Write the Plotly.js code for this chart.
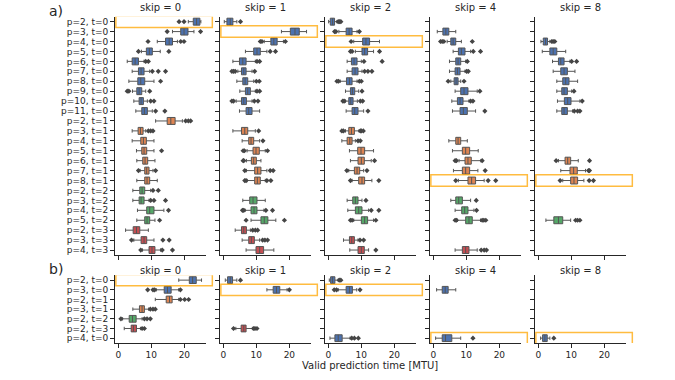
<!DOCTYPE html>
<html>
<head>
<meta charset="utf-8">
<script src="https://cdn.plot.ly/plotly-3.0.1.min.js"></script>
<style>body{margin:0;background:#fff}#chart{width:675px;height:380px}</style>
</head>
<body>
<div id="chart"></div>
<script>
// categories of the two rows
var catsA = ['p=2, t=0','p=3, t=0','p=4, t=0','p=5, t=0','p=6, t=0','p=7, t=0','p=8, t=0','p=9, t=0','p=10, t=0','p=11, t=0',
             'p=2, t=1','p=3, t=1','p=4, t=1','p=5, t=1','p=6, t=1','p=7, t=1','p=8, t=1',
             'p=2, t=2','p=3, t=2','p=4, t=2','p=5, t=2',
             'p=2, t=3','p=3, t=3','p=4, t=3'];
var catsB = ['p=2, t=0','p=3, t=0','p=2, t=1','p=3, t=1','p=2, t=2','p=2, t=3','p=4, t=0'];
var skips = [0, 1, 2, 4, 8];

// box stats per category: [lower whisker, q1, median, q3, upper whisker]
var statsA0 = [[21.2,22.7,23.7,24.7,25.0],[16.4,18.9,19.9,21.1,22.9],[11.8,14.3,15.4,16.4,17.9],[7.0,8.5,9.4,10.3,12.7],
  [2.7,4.2,5.1,6.1,7.8],[4.2,6.1,6.9,7.8,9.5],[3.2,5.9,6.8,8.0,10.8],[4.3,5.6,6.3,7.1,8.3],[4.7,6.3,6.9,7.6,8.8],[5.3,7.1,7.9,8.8,10.3],
  [11.3,14.8,15.9,17.2,19.4],[4.2,6.0,6.7,7.5,8.3],[4.2,6.8,7.6,8.5,10.8],[5.5,7.1,7.8,8.6,10.8],[5.6,7.4,8.1,8.9,11.1],[6.6,8.0,8.6,9.3,10.5],[5.6,8.0,8.7,9.5,11.8],
  [4.4,6.5,7.2,8.0,9.8],[4.4,6.3,6.9,7.8,9.3],[5.8,8.6,9.5,10.8,13.8],[5.6,8.0,8.7,9.5,11.1],
  [2.2,4.5,5.5,6.5,9.1],[4.7,6.9,7.8,8.6,10.8],[7.3,9.3,10.2,11.1,12.8]];
var outsA0 = [[18.4,19.9],[14.8,24.9],[9.0,18.9,19.9],[6.1,15.3],[8.3,9.1],[10.3,12.1,14.3],[12.8],[2.7,3.2,9.5],[9.8,10.8],[11.3,14.1],
  [20.4,21.2,21.9],[9.1,9.8,10.5],[],[13.1],[],[6.1,11.3],[],
  [10.5,12.1],[9.8,10.8,14.3],[15.2],[12.5],
  [],[4.0,13.5,15.4],[6.8,13.3,16.4]];

var statsA1 = [[0.3,1.1,2.1,2.9,4.1],[17.6,20.3,21.7,23.0,25.2],[12.4,14.4,15.3,16.3,18.2],[6.7,9.2,10.2,11.2,13.2],
  [2.9,4.9,5.9,6.9,9.7],[4.4,5.5,6.2,6.9,8.7],[4.1,5.9,6.6,7.4,9.2],[5.0,6.7,7.4,8.2,9.7],[3.9,5.5,6.2,7.0,8.7],[4.9,6.9,7.7,8.7,11.0],
  null,[2.9,5.5,6.5,7.4,9.7],[5.7,7.7,8.4,9.2,11.0],[7.2,9.0,9.9,10.9,12.7],[7.0,8.5,9.2,10.0,11.4],[7.0,9.5,10.4,11.4,13.2],[7.2,9.5,10.3,11.2,12.7],
  null,[5.9,8.0,9.0,10.2,12.7],[6.6,8.4,9.3,10.2,12.3],[8.4,11.4,12.4,13.5,15.9],
  [3.6,5.5,6.2,7.0,8.2],[5.7,7.7,8.5,9.4,11.0],[6.9,9.9,11.0,12.2,15.3]];
var outsA1 = [[5.2],[],[11.2,11.7,18.8],[14.2,15.8],[10.2,11.0],[2.6,3.1,3.6,9.5],[10.0,10.9],[10.2,11.0],[2.6,3.1,9.4,10.5],[],
  [],[10.7],[12.0],[6.0,6.4,13.4],[6.0,6.2],[6.5,14.2,15.1],[6.5,6.9,13.2,14.4],
  [],[],[5.8,6.2,12.9,14.9],[6.9,18.5],
  [8.9,9.7,10.4],[11.9,12.6,13.4],[]];

var statsA2 = [[0.1,0.6,1.3,1.9,2.6],[3.2,5.4,6.3,7.2,8.7],[7.7,10.4,11.4,12.5,15.5],[8.2,10.2,11.0,11.9,13.7],
  [5.7,7.0,7.8,8.7,10.0],[5.7,7.2,8.1,9.0,10.2],[3.6,5.5,6.4,7.2,8.7],[5.2,6.7,7.3,8.0,9.2],[5.2,6.2,6.8,7.5,8.8],[5.4,7.2,8.0,9.0,10.7],
  null,[5.2,6.2,7.0,7.9,9.3],[4.1,5.7,6.5,7.2,8.2],[6.4,8.9,9.9,11.0,13.7],[6.7,9.0,10.0,10.9,13.0],[6.2,7.9,8.7,9.5,10.7],[7.2,9.2,10.2,11.0,13.2],
  null,[5.7,7.4,8.2,9.0,10.2],[5.9,8.2,9.2,10.2,12.2],[7.7,10.0,11.0,11.9,13.7],
  null,[4.6,6.4,7.1,7.9,9.0],[6.5,9.0,10.0,10.9,12.2]];
var outsA2 = [[3.0,3.4,3.8],[1.9,2.3,9.4],[6.9],[6.7,7.2,15.5],[10.8,16.3],[11.0,12.0,13.2],[2.6,3.1,9.4,10.0],[10.2],[4.4,4.8,9.7,10.4],[12.0],
  [],[4.1,4.6,9.7,10.0,10.6],[9.0,9.7],[],[14.0],[5.6,11.7],[6.7,15.3],
  [],[11.4],[13.0,15.3],[6.7,7.2,14.4],
  [],[9.6,10.7],[14.4]];

var statsA4 = [null,[1.2,2.9,3.8,4.7,6.8],[4.2,5.3,6.0,6.8,8.5],[6.0,7.6,8.5,9.6,11.3],
  [4.9,6.8,7.5,8.3,9.8],[4.9,6.6,7.3,8.1,9.6],[5.3,6.3,6.9,7.5,8.3],[6.6,8.3,9.3,10.5,13.3],[5.6,7.3,8.1,9.0,10.8],[5.8,8.1,9.1,10.3,12.8],
  null,null,[4.7,6.8,7.5,8.3,10.3],[5.8,8.8,9.8,11.0,13.6],[7.8,9.6,10.5,11.5,14.4],[6.1,8.8,9.8,11.0,13.5],[7.6,10.5,11.6,12.8,15.4],
  null,[5.3,6.8,7.7,8.8,11.3],[6.6,8.6,9.5,10.5,12.3],[7.3,9.8,10.8,11.8,14.3],
  null,null,[6.6,8.8,9.8,10.8,13.3]];
var outsA4 = [[],[],[2.2,2.7,3.2,11.8],[12.1,14.3],[10.3],[10.1,10.6],[4.5,9.3],[14.1],[11.3,12.0],[15.6],
  [],[],[],[],[6.6,7.0,14.8],[15.7],[6.8,16.6,18.9],
  [],[13.0],[13.1],[6.6,7.0,14.8,15.3,15.9],
  [],[],[14.5,15.4,16.1]];

var statsA8 = [null,null,[0.8,1.5,2.2,2.8,3.5],[1.2,3.5,4.5,5.6,8.3],
  [4.3,6.1,6.8,7.8,9.6],[4.5,6.8,7.8,8.8,11.1],[5.6,7.4,8.3,9.3,11.9],[5.6,7.1,7.8,8.8,10.1],[5.8,7.9,8.9,9.9,12.6],[5.6,7.1,7.8,8.8,10.4],
  null,null,null,null,[6.1,8.1,8.9,9.8,12.1],[6.8,9.6,10.7,11.8,14.3],[7.4,9.8,10.8,11.9,13.8],
  null,null,null,[2.3,4.7,6.1,7.4,9.8],
  null,null,null];
var outsA8 = [[],[],[4.1,4.5,5.0],[],[10.1,11.6],[],[],[10.8],[13.3],[10.9,11.9,12.6],
  [],[],[],[],[5.4,15.5],[15.2,15.5],[6.6,15.4,16.7],
  [],[],[],[11.3,11.9,12.6],
  [],[],[]];

var statsB0 = [[18.3,21.5,22.5,23.6,25.2],[11.5,13.9,14.9,16.0,18.3],[11.2,14.5,15.5,16.3,18.3],[4.4,6.4,7.2,7.9,9.2],[1.3,3.3,4.3,5.4,7.2],[1.8,3.9,4.6,5.5,6.7],null];
var outsB0 = [[],[8.9,10.5,11.0,18.8],[18.8,20.1,21.3],[9.7,10.5,11.2],[0.8,7.9,8.7,9.7],[7.2,7.9],[]];
var statsB1 = [[0.6,1.3,2.1,2.8,4.1],[13.2,15.1,16.1,17.1,19.3],null,null,null,[3.8,5.4,6.2,6.9,8.8],null];
var outsB1 = [[5.2],[20.0],[],[],[],[3.1,9.2,9.6,10.2],[]];
var statsB2 = [[0.3,0.7,1.3,2.0,3.0],[3.0,5.4,6.4,7.3,8.6],null,null,null,null,[0.5,2.0,3.0,4.2,6.6]];
var outsB2 = [[3.3,3.8],[1.8,2.5,9.6],[],[],[],[],[7.1,7.9,9.1]];
var statsB4 = [null,[1.0,2.7,3.6,4.5,6.8],null,null,null,null,[0.7,2.7,3.7,5.6,8.3]];
var outsB4 = [[],[],[],[],[],[],[12.0]];
var statsB8 = [null,null,null,null,null,null,[0.7,1.3,2.0,2.7,3.5]];
var outsB8 = [[],[],[],[],[],[],[4.7]];

// best configuration per panel (highlighted)
var bestA = [0, 1, 2, 16, 16];
var bestB = [0, 1, 1, 6, 6];

var statsA = [statsA0, statsA1, statsA2, statsA4, statsA8];
var outsA = [outsA0, outsA1, outsA2, outsA4, outsA8];
var statsB = [statsB0, statsB1, statsB2, statsB4, statsB8];
var outsB = [outsB0, outsB1, outsB2, outsB4, outsB8];

var tColors = ['#4c72b0', '#dd8452', '#55a868', '#c44e52'];
var ink = '#262626';
var W = 675, H = 380;

var data = [];
var layout = {
  width: W, height: H,
  margin: {l: 0, r: 0, t: 0, b: 0},
  paper_bgcolor: '#fff', plot_bgcolor: '#fff',
  showlegend: false,
  boxmode: 'overlay',
  font: {family: 'DejaVu Sans', size: 9, color: ink},
  shapes: [],
  annotations: []
};

function tOf(cat) { return parseInt(cat.slice(-1)); }

function addPanel(n, cats, stats, outs, best, showX, showY, yDom, xDom) {
  var sfx = n == 1 ? '' : String(n);
  var xa = 'x' + sfx, ya = 'y' + sfx;
  for (var t = 0; t < 4; t++) {
    var ys = [], lo = [], q1 = [], md = [], q3 = [], hi = [];
    for (var i = 0; i < cats.length; i++) {
      if (!stats[i] || tOf(cats[i]) != t) continue;
      ys.push(cats[i]); lo.push(stats[i][0]); q1.push(stats[i][1]);
      md.push(stats[i][2]); q3.push(stats[i][3]); hi.push(stats[i][4]);
    }
    if (!ys.length) continue;
    data.push({
      type: 'box', orientation: 'h', y: ys,
      lowerfence: lo, q1: q1, median: md, q3: q3, upperfence: hi,
      fillcolor: tColors[t], line: {color: '#555', width: 1},
      boxpoints: false, width: 0.7, whiskerwidth: 0.5,
      xaxis: xa, yaxis: ya, hoverinfo: 'skip'
    });
  }
  var ox = [], oy = [];
  for (var i = 0; i < cats.length; i++) {
    outs[i].forEach(function (v) { ox.push(v); oy.push(cats[i]); });
  }
  data.push({
    type: 'scatter', mode: 'markers', x: ox, y: oy,
    marker: {symbol: 'diamond', size: 4, color: '#454545'},
    xaxis: xa, yaxis: ya, hoverinfo: 'skip'
  });
  layout['xaxis' + sfx] = {
    domain: xDom, anchor: ya, range: [-1.15, 26.4],
    tickmode: 'array', tickvals: [0, 10, 20],
    ticks: 'outside', ticklen: 3.5, tickwidth: 1, tickcolor: ink,
    showline: true, linecolor: ink, linewidth: 1,
    showgrid: false, zeroline: false, showticklabels: showX,
    tickfont: {size: 9, color: ink}
  };
  layout['yaxis' + sfx] = {
    domain: yDom, anchor: xa, type: 'category',
    categoryorder: 'array', categoryarray: cats,
    range: [cats.length - 0.5, -0.5],
    tickmode: 'array', tickvals: cats,
    ticks: 'outside', ticklen: 3.5, tickwidth: 1, tickcolor: ink,
    showline: true, linecolor: ink, linewidth: 1,
    showgrid: false, zeroline: false, showticklabels: showY,
    tickfont: {size: 9, color: ink}
  };
  layout.shapes.push({
    type: 'rect', xref: xa + ' domain', yref: ya,
    x0: 0.015, x1: 1.075, y0: best - 0.58, y1: best + 0.58,
    line: {color: 'rgba(255,165,0,0.75)', width: 1.5}, fillcolor: 'rgba(0,0,0,0)'
  });
}

var yDomA = [1 - 255 / H, 1 - 16.7 / H];
var yDomB = [1 - 343 / H, 1 - 275.3 / H];

for (var k = 0; k < 5; k++) {
  var L = 114.5 + 105 * k, R = L + 91;
  var xDom = [L / W, R / W];
  addPanel(k + 1, catsA, statsA[k], outsA[k], bestA[k], false, k == 0, yDomA, xDom);
  addPanel(k + 6, catsB, statsB[k], outsB[k], bestB[k], true, k == 0, yDomB, xDom);
  var cx = (L + R) / 2 / W;
  layout.annotations.push({text: 'skip = ' + skips[k], xref: 'paper', yref: 'paper', x: cx, y: 1 - 8 / H,
    showarrow: false, font: {size: 10, color: ink}, xanchor: 'center', yanchor: 'middle'});
  layout.annotations.push({text: 'skip = ' + skips[k], xref: 'paper', yref: 'paper', x: cx, y: 1 - 270.5 / H,
    showarrow: false, font: {size: 10, color: ink}, xanchor: 'center', yanchor: 'middle'});
}

layout.annotations.push({text: 'a)', xref: 'paper', yref: 'paper', x: 56 / W, y: 1 - 11 / H,
  showarrow: false, font: {size: 14, color: ink}, xanchor: 'center', yanchor: 'middle'});
layout.annotations.push({text: 'b)', xref: 'paper', yref: 'paper', x: 56 / W, y: 1 - 269 / H,
  showarrow: false, font: {size: 14, color: ink}, xanchor: 'center', yanchor: 'middle'});
layout.annotations.push({text: 'Valid prediction time [MTU]', xref: 'paper', yref: 'paper', x: 370 / W, y: 1 - 365 / H,
  showarrow: false, font: {size: 10, color: ink}, xanchor: 'center', yanchor: 'middle'});

Plotly.newPlot('chart', data, layout, {staticPlot: true});
</script>
</body>
</html>
